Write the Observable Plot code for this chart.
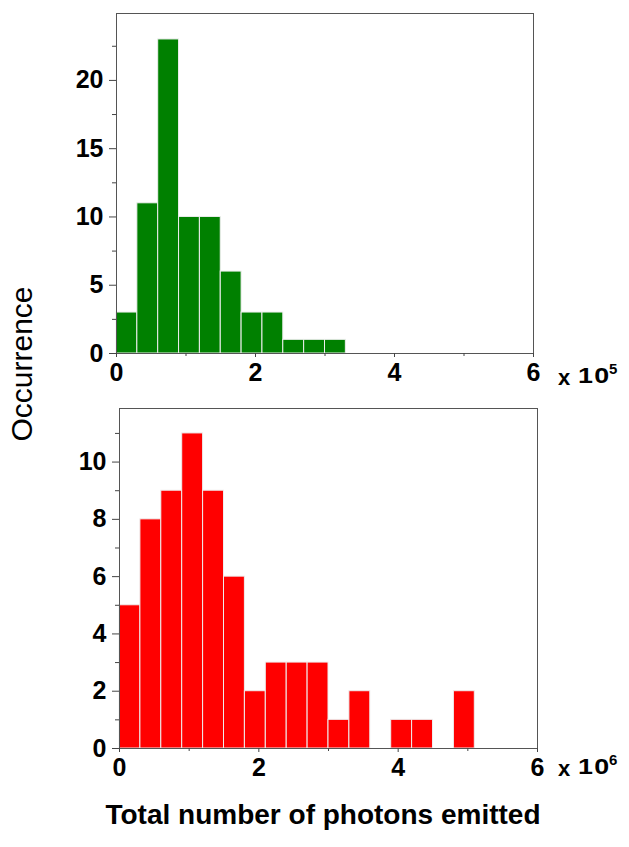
<!DOCTYPE html>
<html><head><meta charset="utf-8">
<script src="https://cdn.jsdelivr.net/npm/d3@7"></script>
<script src="https://cdn.jsdelivr.net/npm/@observablehq/plot@0.6"></script>
<style>
body{margin:0;background:#fff;}
#wrap{position:relative;width:629px;height:847px;font-family:"Liberation Sans",Arial,sans-serif;background:#fff;overflow:hidden;}
.abs{position:absolute;white-space:nowrap;color:#000;}
</style></head><body><div id="wrap"></div>
<script>
// Histogram data (bin width 0.3 in axis units)
const binWidth = 0.3;
const topStarts = [0, 0.3, 0.6, 0.9, 1.2, 1.5, 1.8, 2.1, 2.4, 2.7, 3.0];
const topCounts = [3, 11, 23, 10, 10, 6, 3, 3, 1, 1, 1];
const bottomStarts = [0, 0.3, 0.6, 0.9, 1.2, 1.5, 1.8, 2.1, 2.4, 2.7, 3.0, 3.3, 3.9, 4.2, 4.8];
const bottomCounts = [5, 8, 9, 11, 9, 6, 2, 3, 3, 3, 1, 2, 1, 1, 2];
// Tick values
const xMajorTicks = [0, 2, 4, 6];
const xMinorTicks = [1, 3, 5];
const topYMajor = [0, 5, 10, 15, 20];
const topYMinor = [2.5, 7.5, 12.5, 17.5, 22.5];
const bottomYMajor = [0, 2, 4, 6, 8, 10];
const bottomYMinor = [1, 3, 5, 7, 9, 11];
// Texts
const yTitle = "Occurrence";
const xTitle = "Total number of photons emitted";
const multX = "x";
const multBase = "10";
const topExp = "5";
const bottomExp = "6";

const FONT = '"Liberation Sans", Arial, sans-serif';
const fmt = d3.format("d");

function hist(o) {
  const rows = o.starts.map((s, i) => ({x1: s, x2: s + binWidth, y: o.counts[i]}));
  return Plot.plot({
    width: 629, height: o.height,
    marginTop: o.marginTop, marginBottom: o.marginBottom,
    marginLeft: o.marginLeft, marginRight: o.marginRight,
    x: {domain: [0, 6]},
    y: {domain: o.yDomain},
    style: {fontFamily: FONT, fontSize: "25px", fontWeight: "bold", background: "transparent", color: "#000", overflow: "visible"},
    marks: [
      Plot.rectY(rows, {x1: "x1", x2: "x2", y1: 0, y2: "y", fill: o.color, stroke: "#eeeeee", strokeWidth: 1}),
      Plot.frame({stroke: "#555", strokeWidth: 1}),
      Plot.axisY({ticks: o.yMajor, tickSize: 7, tickPadding: 6, tickFormat: fmt, stroke: "#444", fill: "#000", label: null}),
      Plot.axisY({ticks: o.yMinor, tickSize: 4, tickFormat: () => "", stroke: "#444", label: null}),
      Plot.axisX({ticks: xMajorTicks, tickSize: 4, tickPadding: 6, tickFormat: fmt, stroke: "#444", fill: "#000", label: null}),
      Plot.axisX({ticks: xMinorTicks, tickSize: 3, tickFormat: () => "", stroke: "#444", label: null})
    ]
  });
}

const wrap = document.getElementById("wrap");

const p1 = hist({starts: topStarts, counts: topCounts, color: "#008000", yDomain: [0, 24.9],
  yMajor: topYMajor, yMinor: topYMinor, height: 400, marginTop: 13, marginBottom: 47, marginLeft: 116, marginRight: 96});
p1.style.position = "absolute"; p1.style.top = "0px"; p1.style.left = "0px";
wrap.appendChild(p1);

const p2 = hist({starts: bottomStarts, counts: bottomCounts, color: "#ff0000", yDomain: [0, 11.87],
  yMajor: bottomYMajor, yMinor: bottomYMinor, height: 400, marginTop: 8, marginBottom: 52, marginLeft: 119, marginRight: 92});
p2.style.position = "absolute"; p2.style.top = "400px"; p2.style.left = "0px";
wrap.appendChild(p2);

function label(text, css) {
  const d = document.createElement("div");
  d.className = "abs";
  d.textContent = text;
  Object.assign(d.style, css);
  wrap.appendChild(d);
  return d;
}

label(yTitle, {left: "22px", top: "364px", fontSize: "30px", lineHeight: "30px", transform: "translate(-50%,-50%) rotate(-90deg)"});
label(xTitle, {left: "323px", top: "801px", fontSize: "28px", lineHeight: "28px", fontWeight: "bold", transform: "translateX(-50%)"});

function mult(top, exp) {
  label(multX, {left: "558px", top: (top + 2) + "px", fontSize: "22px", lineHeight: "22px", fontWeight: "bold"});
  label(multBase, {left: "578px", top: top + "px", fontSize: "22px", lineHeight: "22px", fontWeight: "bold", letterSpacing: "1px", transform: "scaleX(1.22)", transformOrigin: "left center"});
  label(exp, {left: "609px", top: (top - 4) + "px", fontSize: "15px", lineHeight: "15px", fontWeight: "bold"});
}
mult(365, topExp);
mult(756, bottomExp);
</script></body></html>
